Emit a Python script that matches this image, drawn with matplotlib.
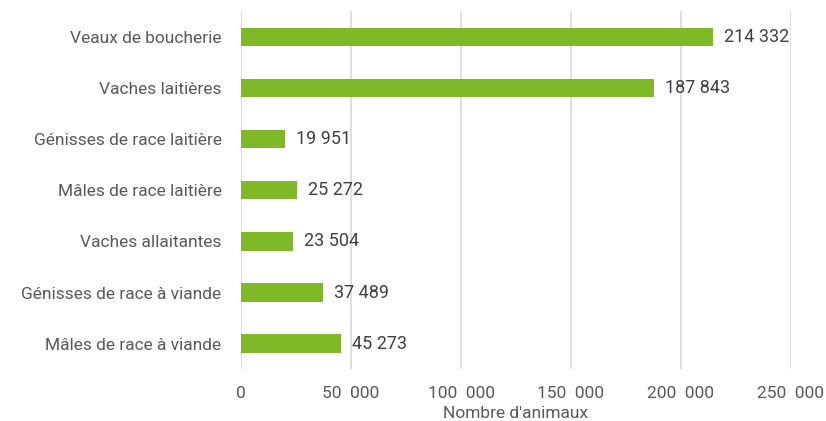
import matplotlib.pyplot as plt
from matplotlib.ticker import FuncFormatter

categories = ['Veaux de boucherie', 'Vaches laitières', 'Génisses de race laitière',
              'Mâles de race laitière', 'Vaches allaitantes', 'Génisses de race à viande',
              'Mâles de race à viande']
values = [214332, 187843, 19951, 25272, 23504, 37489, 45273]

plt.rcParams['font.family'] = ['Roboto', 'DejaVu Sans']

fig = plt.figure(figsize=(8.26, 4.21), dpi=100)
ax = fig.add_axes([0.2918, 0.123, 0.6658, 0.850])

y = list(range(len(categories)))
ax.barh(y, values, height=0.36, color='#80b927', zorder=3)
ax.set_yticks(y)
ax.set_yticklabels(categories)
ax.set_ylim(len(categories) - 0.5, -0.5)

def fmt(v):
    return f'{int(v):,}'.replace(',', ' ')

for yi, v in zip(y, values):
    ax.text(v + 5000, yi, fmt(v), va='center', ha='left', fontsize=13, color='#404040')

ax.set_xlim(0, 250000)
ax.set_xticks(range(0, 250001, 50000))
ax.xaxis.set_major_formatter(FuncFormatter(lambda v, p: fmt(v).replace(' ', '  ')))
ax.grid(axis='x', color='#dcdcdc', linewidth=1.3, zorder=0)
for s in ax.spines.values():
    s.set_visible(False)
ax.tick_params(length=0, labelsize=12.5, colors='#595959')
ax.tick_params(axis='y', pad=14)
ax.tick_params(axis='x', pad=12)
ax.set_xlabel("Nombre d'animaux", fontsize=12.5, color='#595959', labelpad=4)

fig.savefig('out.png', dpi=100)
